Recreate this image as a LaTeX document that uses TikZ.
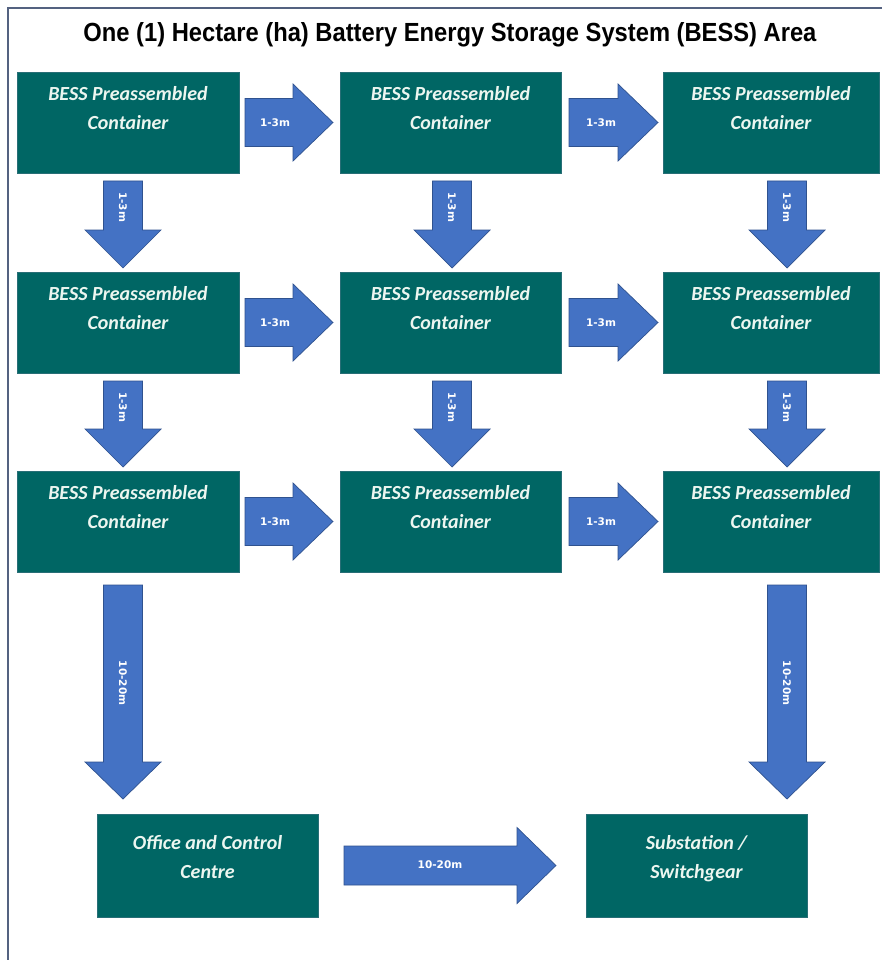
\documentclass[tikz,border=0pt]{standalone}
\usepackage{fontspec}
\usepackage{graphicx}
\setmainfont{Carlito}
\newfontfamily\titlefont{Liberation Sans}
\newfontfamily\labfont{DejaVu Sans}
\usetikzlibrary{calc}
\definecolor{teal}{RGB}{0,102,100}
\definecolor{tealedge}{RGB}{40,110,118}
\definecolor{boxtxt}{RGB}{236,246,240}
\definecolor{afill}{RGB}{68,114,196}
\definecolor{aline}{RGB}{47,82,143}
\definecolor{frame}{RGB}{84,98,128}
\tikzset{
  box/.style={fill=teal, draw=tealedge, line width=0.6pt, inner sep=0pt, outer sep=0pt},
  boxtext/.style={text=boxtxt, font=\fontsize{20}{29}\selectfont\bfseries\itshape, align=center, inner sep=0pt, anchor=north},
  barrow/.style={fill=afill, draw=aline, line width=0.7pt, line join=miter},
  lab/.style={text=white, font=\labfont\bfseries\fontsize{10.5}{12}\selectfont, inner sep=0pt},
  frameline/.style={draw=frame, line width=1.4pt}
}
% horizontal block arrow: from, tip, shaft half, head half, head length
\newcommand\HArrow[5]{%
  \filldraw[barrow] ($(#1)+(0,-#3)$) -- ($(#2)+(-#5,-#3)$) -- ($(#2)+(-#5,-#4)$) -- (#2)
    -- ($(#2)+(-#5,#4)$) -- ($(#2)+(-#5,#3)$) -- ($(#1)+(0,#3)$) -- cycle;}
% vertical block arrow (pointing down): from, tip, shaft half, head half, head length
\newcommand\VArrow[5]{%
  \filldraw[barrow] ($(#1)+(-#3,0)$) -- ($(#2)+(-#3,-#5)$) -- ($(#2)+(-#4,-#5)$) -- (#2)
    -- ($(#2)+(#4,-#5)$) -- ($(#2)+(#3,-#5)$) -- ($(#1)+(#3,0)$) -- cycle;}
\begin{document}
\begin{tikzpicture}[x=1pt,y=-1pt]
\useasboundingbox (0,0) rectangle (881,960);
\fill[white] (0,0) rectangle (881,960);
\draw[frameline] (8,962) -- (8,8) -- (883,8);

% title
\node[anchor=base, inner sep=0pt] (title) at (450,42)
  {\resizebox{733pt}{19pt}{\titlefont\bfseries\fontsize{25}{30}\selectfont One (1) Hectare (ha) Battery Energy Storage System (BESS) Area}};

% BESS container grid
\foreach \r/\yc in {1/122.5, 2/322.5, 3/521.5}{
  \foreach \c/\xc/\w in {1/128/222, 2/450.5/221, 3/771/216}{
    \node[box, minimum width=\w pt, minimum height=101pt] (b\r\c) at (\xc,\yc) {};
    \node[boxtext] (t\r\c) at ([yshift=-14pt]b\r\c.north) {BESS Preassembled\\Container};
  }
}

% office and substation
\node[box, minimum width=221pt, minimum height=103pt] (office) at (207.5,865.5) {};
\node[boxtext] (toffice) at ([yshift=-21pt]office.north) {Office and Control\\Centre};
\node[box, minimum width=221pt, minimum height=103pt] (sub) at (696.5,865.5) {};
\node[boxtext] (tsub) at ([yshift=-21pt]sub.north) {Substation /\\Switchgear};

% horizontal arrows between columns
\foreach \r in {1,2,3}{
  \coordinate (ha\r) at ([xshift=6pt]b\r1.east);
  \coordinate (hb\r) at ([xshift=-7pt]b\r2.west);
  \HArrow{ha\r}{hb\r}{24}{38.5}{40}
  \node[lab] (lh\r a) at ($(ha\r)+(30,0)$) {1-3m};
  \coordinate (hc\r) at ([xshift=8pt]b\r2.east);
  \coordinate (hd\r) at ([xshift=-5pt]b\r3.west);
  \HArrow{hc\r}{hd\r}{24}{38.5}{40}
  \node[lab] (lh\r b) at ($(hc\r)+(32,0)$) {1-3m};
}

% vertical arrows between rows
\foreach \r/\n in {1/2, 2/3}{
  \foreach \c/\dx in {1/-5, 2/1.5, 3/16}{
    \coordinate (vs\r\c) at ([shift={(\dx,8)}]b\r\c.south);
    \coordinate (vt\r\c) at ([shift={(\dx,-4)}]b\n\c.north);
    \VArrow{vs\r\c}{vt\r\c}{19.5}{38}{38}
    \node[lab, rotate=-90] (lv\r\c) at ($(vs\r\c)+(0,26)$) {1-3m};
  }
}

% long vertical arrows to office and substation
\coordinate (ls1) at ([shift={(-5,13)}]b31.south);
\coordinate (lt1) at (123,799);
\VArrow{ls1}{lt1}{19.5}{38}{37}
\node[lab, rotate=-90] (ll1) at ($(ls1)+(0,98)$) {10-20m};
\coordinate (ls3) at ([shift={(16,13)}]b33.south);
\coordinate (lt3) at (787,799);
\VArrow{ls3}{lt3}{19.5}{38}{37}
\node[lab, rotate=-90] (ll3) at ($(ls3)+(0,98)$) {10-20m};

% bottom horizontal arrow
\coordinate (bs) at ([xshift=26pt]office.east);
\coordinate (bt) at ([xshift=-30pt]sub.west);
\HArrow{bs}{bt}{19.5}{38}{39}
\node[lab] (lb) at (440,865) {10-20m};
\end{tikzpicture}
\end{document}
